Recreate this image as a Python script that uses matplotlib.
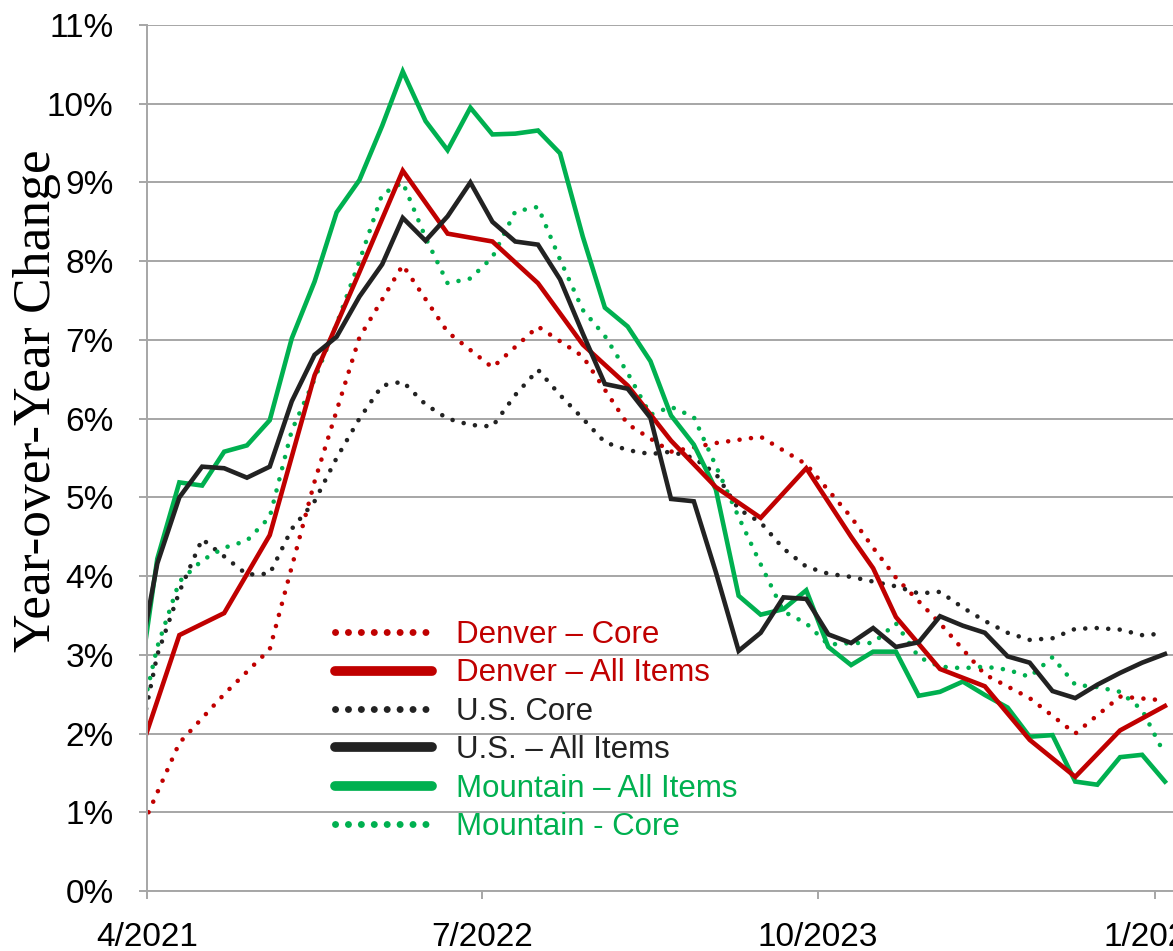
import numpy as np
import pandas as pd
import matplotlib
matplotlib.use('Agg')
import matplotlib.pyplot as plt
from matplotlib.lines import Line2D

# month index 0 = March 2021 ... 46 = January 2025 (points plotted mid-month)
n_months = 47

us_all = [2.6, 4.16, 5.0, 5.39, 5.37, 5.25, 5.39, 6.22, 6.81, 7.04, 7.55, 7.96,
          8.55, 8.26, 8.57, 9.0, 8.5, 8.25, 8.21, 7.77, 7.08, 6.44, 6.38, 6.01,
          4.98, 4.95, 4.05, 3.05, 3.28, 3.73, 3.71, 3.26, 3.15, 3.34, 3.1, 3.16,
          3.49, 3.37, 3.28, 2.98, 2.9, 2.54, 2.45, 2.62, 2.77, 2.9, 3.01]

us_core = [1.6, 3.0, 3.8, 4.47, 4.25, 4.02, 4.03, 4.6, 4.95, 5.5, 6.0, 6.42,
           6.47, 6.18, 6.0, 5.92, 5.9, 6.3, 6.62, 6.3, 6.0, 5.7, 5.6, 5.55,
           5.58, 5.5, 5.3, 4.85, 4.68, 4.35, 4.12, 4.03, 3.99, 3.93, 3.87, 3.78,
           3.8, 3.6, 3.43, 3.28, 3.19, 3.21, 3.33, 3.34, 3.32, 3.25, 3.27]

mtn_all = [2.2, 4.22, 5.19, 5.15, 5.58, 5.66, 5.98, 7.02, 7.74, 8.62, 9.03, 9.72,
           10.41, 9.78, 9.41, 9.95, 9.61, 9.62, 9.66, 9.37, 8.31, 7.41, 7.17, 6.73,
           6.04, 5.67, 5.1, 3.75, 3.51, 3.58, 3.82, 3.1, 2.87, 3.04, 3.04, 2.48,
           2.53, 2.66, 2.49, 2.33, 1.96, 1.98, 1.39, 1.35, 1.7, 1.73, 1.39]

mtn_core = [1.85, 3.1, 3.93, 4.2, 4.36, 4.45, 4.75, 5.85, 6.5, 7.2, 8.0, 8.85,
            9.0, 8.3, 7.72, 7.78, 8.05, 8.63, 8.69, 8.02, 7.38, 7.05, 6.58, 6.05,
            6.15, 6.02, 5.4, 4.75, 4.15, 3.55, 3.4, 3.13, 3.15, 3.15, 3.4, 2.97,
            2.85, 2.83, 2.85, 2.81, 2.72, 2.97, 2.62, 2.59, 2.53, 2.3, 1.73]

# Denver is published every other month
denver_months = [0, 2, 4, 6, 8, 10, 12, 14, 16, 18, 20, 22, 24, 26, 28, 30,
                 32, 33, 34, 36, 38, 40, 42, 44, 46]
denver_all = [1.55, 3.25, 3.53, 4.52, 6.55, 7.86, 9.15, 8.35, 8.25, 7.72, 6.94,
              6.42, 5.72, 5.13, 4.74, 5.37, 4.5, 4.1, 3.48, 2.82, 2.6, 1.92,
              1.45, 2.04, 2.35]
denver_core = [0.6, 1.88, 2.5, 3.07, 5.2, 7.03, 7.95, 7.1, 6.65, 7.17, 6.79,
               5.93, 5.58, 5.69, 5.77, 5.42, 4.75, 4.36, 3.98, 3.4, 2.75, 2.45,
               2.0, 2.47, 2.42]

tick_dates = ['2021-04-01', '2022-07-01', '2023-10-01', '2025-01-01']
tick_labels = ['4/2021', '7/2022', '10/2023', '1/2025']

red = '#C00000'
black = '#222222'
green = '#00B050'
grid = '#A6A6A6'

dates = pd.date_range('2021-03-01', periods=n_months, freq='MS') + pd.Timedelta(days=14)
denver_dates = dates[denver_months]

fig = plt.figure(figsize=(11.73, 9.51), dpi=100)
ax = fig.add_axes([147 / 1173, 60 / 951, 1026 / 1173, 866 / 951])

dot = (0, (0.01, 2.5))
lw = 3.3
ax.plot(denver_dates, denver_core, color=red, lw=lw, ls=dot, dash_capstyle='round')
ax.plot(dates, us_core, color=black, lw=lw, ls=dot, dash_capstyle='round')
ax.plot(dates, mtn_core, color=green, lw=lw, ls=dot, dash_capstyle='round')
ax.plot(dates, mtn_all, color=green, lw=lw, solid_joinstyle='miter')
ax.plot(denver_dates, denver_all, color=red, lw=lw, solid_joinstyle='miter')
ax.plot(dates, us_all, color=black, lw=lw, solid_joinstyle='miter')

ax.set_xlim(pd.Timestamp('2021-04-01'), pd.Timestamp('2025-01-26'))
ax.set_ylim(0, 11)
ax.set_yticks(range(0, 12))
ax.set_yticklabels([f'{v}%' for v in range(0, 12)])
ax.set_xticks(pd.to_datetime(tick_dates))
ax.set_xticklabels(tick_labels)

ax.grid(axis='y', color=grid, lw=1.4)
ax.set_axisbelow(True)
for s in ['top', 'right']:
    ax.spines[s].set_visible(False)
for s in ['left', 'bottom']:
    ax.spines[s].set_color(grid)
    ax.spines[s].set_linewidth(1.4)

ax.tick_params(axis='y', length=6, width=1.4, color=grid, pad=18,
               labelsize=24, labelfontfamily='Liberation Sans')
ax.tick_params(axis='x', length=6, width=1.4, color=grid, pad=16.5,
               labelsize=24, labelfontfamily='Liberation Sans')

fig.text(37 / 1173, 1 - 401 / 951, 'Year-over-Year Change', rotation=90,
         ha='center', va='center', fontsize=38.5, family='Liberation Serif')

hdot = (0, (0.01, 1.85))
handles = [
    Line2D([], [], color=red, lw=5, ls=hdot, dash_capstyle='round'),
    Line2D([], [], color=red, lw=7, solid_capstyle='round'),
    Line2D([], [], color=black, lw=5, ls=hdot, dash_capstyle='round'),
    Line2D([], [], color=black, lw=7, solid_capstyle='round'),
    Line2D([], [], color=green, lw=7, solid_capstyle='round'),
    Line2D([], [], color=green, lw=5, ls=hdot, dash_capstyle='round'),
]
labels = ['Denver – Core', 'Denver – All Items', 'U.S. Core', 'U.S. – All Items',
          'Mountain – All Items', 'Mountain - Core']
ax.legend(handles, labels, loc='upper left', bbox_to_anchor=(335 / 1173, 1 - 620 / 951),
          bbox_transform=fig.transFigure, frameon=False, borderpad=0, borderaxespad=0,
          handlelength=3.1, handletextpad=0.78, labelspacing=0.27,
          prop={'family': 'Liberation Sans', 'size': 22.5}, labelcolor='linecolor')

fig.savefig('out.png', dpi=100)
